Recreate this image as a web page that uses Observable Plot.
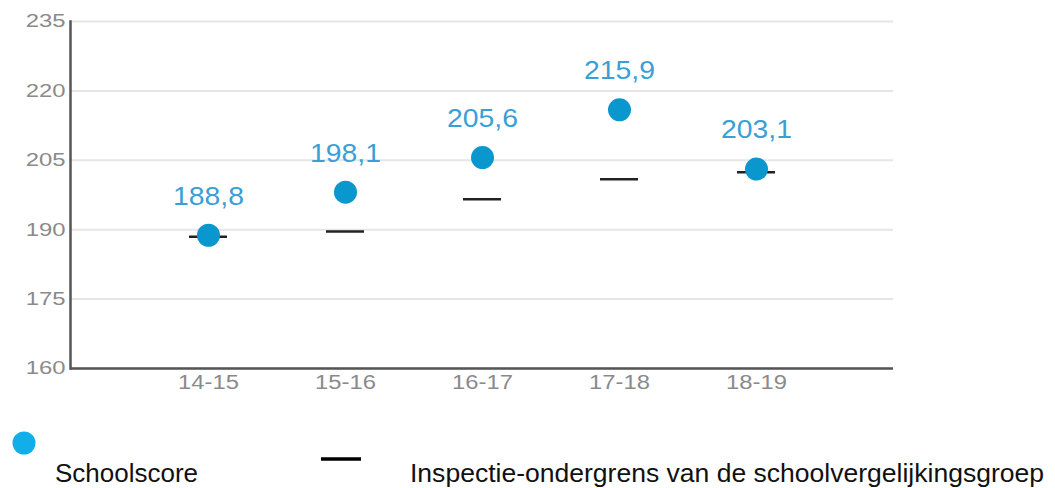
<!DOCTYPE html>
<html>
<head>
<meta charset="utf-8">
<script src="https://cdn.jsdelivr.net/npm/d3@7"></script>
<script src="https://cdn.jsdelivr.net/npm/@observablehq/plot@0.6"></script>
<style>
  html, body { margin: 0; padding: 0; background: #fff; }
  #wrap { position: relative; width: 1055px; height: 488px; font-family: "Liberation Sans", Arial, sans-serif; }
  #chart { position: absolute; left: 0; top: 0; }
  #legend { position: absolute; left: 0; top: 400px; font-family: "Liberation Sans", Arial, sans-serif; }
</style>
</head>
<body>
<div id="wrap">
  <div id="chart"></div>
  <svg id="legend" width="1055" height="88" xmlns="http://www.w3.org/2000/svg"></svg>
</div>
<script>
const years = ["14-15", "15-16", "16-17", "17-18", "18-19"];
const schoolscore = [188.8, 198.1, 205.6, 215.9, 203.1];
const ondergrens = [188.5, 189.6, 196.6, 200.9, 202.4];
const yTicks = [160, 175, 190, 205, 220, 235];
const legendLabels = ["Schoolscore", "Inspectie-ondergrens van de schoolvergelijkingsgroep"];

const data = years.map((year, i) => ({year, score: schoolscore[i], grens: ondergrens[i]}));
const fmt = v => v.toFixed(1).replace(".", ",");

const chart = Plot.plot({
  width: 1055,
  height: 400,
  marginLeft: 70,
  marginRight: 162,
  marginTop: 21,
  marginBottom: 32,
  style: {fontFamily: "'Liberation Sans', Arial, sans-serif", background: "#fff"},
  x: {type: "band", domain: years, paddingInner: 0.723, paddingOuter: 0.861},
  y: {domain: [160, 235]},
  marks: [
    Plot.gridY(yTicks, {stroke: "#e6e6e6", strokeOpacity: 1, strokeWidth: 2}),
    Plot.frame({anchor: "left", stroke: "#555", strokeWidth: 2.5}),
    Plot.ruleY([160], {stroke: "#555", strokeWidth: 2.5}),
    Plot.axisY(yTicks, {tickSize: 0, tickPadding: 5, fontSize: 18.5, fill: "#8a8a8a", label: null}),
    Plot.axisX({tickSize: 0, tickPadding: 7, fontSize: 19.5, fill: "#8a8a8a", label: null}),
    Plot.tickY(data, {x: "year", y: "grens", stroke: "#222", strokeWidth: 2.5}),
    Plot.dot(data, {x: "year", y: "score", r: 11.5, fill: "#0a97ce", stroke: "none"}),
    Plot.text(data, {x: "year", y: "score", text: d => fmt(d.score), dy: -39, fontSize: 26, fill: "#3a9fd6"})
  ]
});
document.getElementById("chart").appendChild(chart);

// The reference's text is drawn slightly wider than the font: widen each text around its anchor.
function stretch(selector, sx) {
  chart.querySelectorAll(selector).forEach(t => {
    const w = t.getComputedTextLength();
    if (w > 0) {
      t.setAttribute("textLength", (w * sx).toFixed(1));
      t.setAttribute("lengthAdjust", "spacingAndGlyphs");
    }
  });
}
stretch('g[aria-label="y-axis tick label"] text', 1.29);
stretch('g[aria-label="x-axis tick label"] text', 1.22);
stretch('g[aria-label="text"] text', 1.09);

// Legend
const lg = d3.select("#legend");
lg.append("circle").attr("cx", 24).attr("cy", 43).attr("r", 11.5).attr("fill", "#12aeea");
lg.append("text").attr("x", 55).attr("y", 82).attr("font-size", 26).attr("fill", "#111")
  .attr("textLength", 143).attr("lengthAdjust", "spacingAndGlyphs").text(legendLabels[0]);
lg.append("line").attr("x1", 321).attr("x2", 361).attr("y1", 59).attr("y2", 59).attr("stroke", "#000").attr("stroke-width", 3.5);
lg.append("text").attr("x", 410).attr("y", 82).attr("font-size", 26).attr("fill", "#111")
  .attr("textLength", 634).attr("lengthAdjust", "spacingAndGlyphs").text(legendLabels[1]);
</script>
</body>
</html>
